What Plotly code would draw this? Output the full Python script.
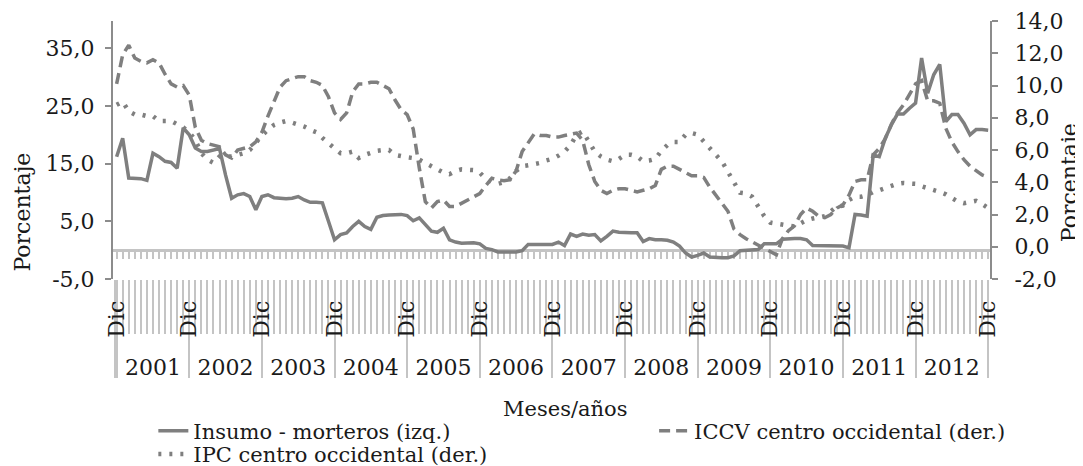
import plotly.graph_objects as go

# ---------------- data (monthly, Dic 2000 ... Dic 2012) ----------------
month_names = ["Ene", "Feb", "Mar", "Abr", "May", "Jun",
               "Jul", "Ago", "Sep", "Oct", "Nov", "Dic"]
years = [2001, 2002, 2003, 2004, 2005, 2006, 2007, 2008, 2009, 2010, 2011, 2012]

insumo_morteros = [
    16.2, 19.4, 12.5, 12.5, 12.4, 12.1, 16.8, 16.2, 15.4, 15.2, 14.2, 21.2,
    20.0, 17.7, 17.1, 17.1, 17.4, 17.6, 13.0, 9.0, 9.6, 9.8, 9.3, 7.0,
    9.3, 9.6, 9.1, 9.0, 8.9, 9.0, 9.3, 8.7, 8.3, 8.3, 8.2, 5.0,
    1.8, 2.7, 3.0, 4.1, 5.0, 4.1, 3.6, 5.7, 6.0, 6.1, 6.1, 6.2,
    6.0, 5.1, 5.6, 4.4, 3.3, 3.1, 3.8, 1.8, 1.4, 1.2, 1.2, 1.3,
    1.1, 0.3, 0.1, -0.3, -0.3, -0.3, -0.3, -0.1, 1.0, 1.0, 1.0, 1.0,
    1.0, 1.4, 0.8, 2.8, 2.4, 2.8, 2.6, 2.7, 1.6, 2.4, 3.3, 3.1,
    3.0, 3.0, 3.0, 1.5, 2.0, 1.8, 1.8, 1.7, 1.4, 0.7, -0.5, -1.2,
    -0.9, -0.5, -1.2, -1.3, -1.3, -1.3, -1.0, -0.1, 0.0, 0.1, 0.1, 1.1,
    1.1, 1.1, 1.9, 2.0, 2.0, 2.0, 1.8, 0.8, 0.8, 0.8, 0.8, 0.8,
    0.7, 0.4, 6.2, 6.1, 5.9, 16.5, 16.2, 19.4, 21.7, 23.6, 23.6, 24.6,
    25.5, 33.3, 27.2, 30.4, 32.2, 22.3, 23.5, 23.5, 22.0, 20.0, 20.9, 20.9,
    20.8,
]

iccv_centro_occidental = [
    10.1, 11.9, 12.5, 11.7, 11.5, 11.4, 11.6, 11.4, 10.7, 10.1, 9.9, 10.0,
    9.4, 7.4, 6.6, 6.4, 6.3, 6.2, 5.7, 5.5, 6.0, 6.1, 6.2, 6.5,
    7.1, 8.1, 9.0, 9.9, 10.3, 10.45, 10.55, 10.55, 10.3, 10.2, 10.0, 9.3,
    8.3, 7.9, 8.3, 9.6, 10.1, 10.1, 10.2, 10.2, 10.0, 9.8, 9.1, 8.5,
    8.2, 7.3, 4.9, 2.8, 2.4, 2.8, 2.9, 2.5, 2.5, 2.7, 2.9, 3.1,
    3.3, 3.8, 4.25, 4.15, 4.1, 4.15, 4.7, 5.9, 6.5, 7.0, 6.9, 6.9,
    6.8, 6.8, 6.9, 7.0, 7.05, 6.6, 5.1, 4.05, 3.5, 3.3, 3.5, 3.6,
    3.6, 3.5, 3.4, 3.5, 3.6, 3.8, 4.8, 5.0, 5.0, 4.8, 4.6, 4.4,
    4.4, 4.3, 3.7, 3.2, 2.7, 2.2, 1.1, 0.75, 0.5, 0.3, 0.1, -0.1,
    -0.35, -0.5, 0.5, 1.0, 1.3, 2.0, 2.4, 2.2, 1.9, 1.8, 2.0, 2.4,
    2.6, 3.2, 4.05, 4.15, 4.15, 5.7, 6.1, 6.7, 7.6, 8.3, 8.8, 9.4,
    10.1, 10.3, 9.05, 9.05, 8.9, 7.35, 6.5, 5.9, 5.4, 5.0, 4.7, 4.45,
    4.3,
]

ipc_centro_occidental = [
    8.8, 9.0, 8.4, 8.2, 8.2, 8.1, 8.1, 7.8, 7.8, 7.8, 7.6, 7.4,
    7.1, 6.6, 5.8, 5.4, 5.2, 5.6, 5.6, 5.6, 5.7, 5.8, 6.0, 6.5,
    6.9, 7.25, 7.55, 7.7, 7.8, 7.7, 7.6, 7.45, 7.25, 7.1, 6.75, 6.4,
    6.1, 5.8, 5.8, 5.9, 5.5, 5.7, 5.85, 5.95, 6.0, 6.0, 5.7, 5.6,
    5.55, 5.5, 5.4, 5.2, 5.0, 4.8, 4.6, 4.5, 4.7, 4.8, 4.8, 4.75,
    4.6, 4.2, 4.0, 3.9, 4.0, 4.25, 4.7, 5.0, 5.05, 5.1, 5.2, 5.35,
    5.45, 5.65, 5.9, 6.3, 6.95, 7.15, 6.5, 5.9, 5.6, 5.4, 5.3, 5.45,
    5.7, 5.7, 5.6, 5.3, 5.35, 5.45, 5.95, 6.3, 6.5, 6.5, 6.95, 7.05,
    6.95, 6.5, 6.1, 5.7, 5.3, 4.65, 3.95, 3.35, 3.3, 3.1, 2.5, 1.9,
    1.5, 1.45, 1.4, 1.3, 1.25, 1.45, 1.65, 1.75, 1.8, 1.9, 2.2, 2.5,
    2.55, 2.9, 3.1, 3.1, 3.2, 3.4, 3.5, 3.65, 3.8, 3.9, 3.95, 3.95,
    3.9, 3.75, 3.65, 3.5, 3.4, 3.25, 3.05, 2.8, 2.7, 2.75, 2.85, 2.65,
    2.4,
]

left_ticks = [-5, 5, 15, 25, 35]
right_ticks = [-2, 0, 2, 4, 6, 8, 10, 12, 14]

# categories: Dic 2000 followed by every month of 2001..2012
categories = ["Dic 2000"] + [f"{m} {y}" for y in years for m in month_names]
idx = list(range(len(categories)))
dic_idx = [i for i, c in enumerate(categories) if c.startswith("Dic")]
year_mid = [(a + b) / 2 for a, b in zip(dic_idx[:-1], dic_idx[1:])]
year_text = [str(y) for y in years]


def fmt(v):
    return f"{v:.1f}".replace(".", ",")


# ---------------- styling ----------------
FONT = "DejaVu Serif"
FS = 22
LFS = 21
TXT = "#1a1a1a"
LINE = "#7f7f7f"
AX = "#8c8c8c"
LIGHT = "#c4c4c4"

x_range = [-0.6, 144.3]
yl_range = [-5, 39.73]
yr_range = [-2, 14]

fig = go.Figure()
fig.add_trace(go.Scatter(x=idx, y=insumo_morteros, mode="lines",
                         name="Insumo - morteros (izq.)",
                         line=dict(color=LINE, width=3.5), legend="legend"))
fig.add_trace(go.Scatter(x=idx, y=iccv_centro_occidental, mode="lines",
                         name="ICCV centro occidental (der.)", yaxis="y2",
                         line=dict(color=LINE, width=3.5, dash="11px,6px"),
                         legend="legend2"))
fig.add_trace(go.Scatter(x=idx, y=ipc_centro_occidental, mode="lines",
                         name="IPC centro occidental (der.)", yaxis="y2",
                         line=dict(color=LINE, width=4.5, dash="3px,8px"),
                         legend="legend3"))
# empty helper traces so the decorative category axes get drawn
for ax in ["x2", "x3", "x4", "x5"]:
    fig.add_trace(go.Scatter(x=[None], y=[None], xaxis=ax, yaxis="y",
                             mode="lines", showlegend=False,
                             hoverinfo="skip"))

zero_pos = (0 - yl_range[0]) / (yl_range[1] - yl_range[0])

legend_style = dict(orientation="v", xanchor="left", yanchor="top",
                    bgcolor="rgba(0,0,0,0)", tracegroupgap=0, itemwidth=30,
                    font=dict(family=FONT, size=LFS, color=TXT))

# the page adds an 8px body margin, so the figure is 8px smaller
fig.update_layout(
    width=1075, height=458,
    margin=dict(l=105, r=93, t=13, b=187, autoexpand=False),
    paper_bgcolor="white", plot_bgcolor="white",
    font=dict(family=FONT, size=FS, color=TXT),
    showlegend=True,
    # main monthly tick marks in the label band
    xaxis=dict(range=x_range, tickmode="array", tickvals=idx,
               showticklabels=False, ticks="outside", ticklen=54,
               tickwidth=2, tickcolor=LIGHT, showline=False,
               showgrid=False, zeroline=False),
    # year separators
    xaxis2=dict(range=x_range, overlaying="x", anchor="y", side="bottom",
                tickmode="array", tickvals=[x_range[0] + 0.25] + dic_idx,
                showticklabels=False, ticks="outside", ticklen=98,
                tickwidth=2, tickcolor=LIGHT, showline=False,
                showgrid=False, zeroline=False),
    # "Dic" labels
    xaxis3=dict(range=x_range, overlaying="x", anchor="y", side="bottom",
                tickmode="array", tickvals=dic_idx,
                ticktext=["Dic"] * len(dic_idx), tickangle=-90,
                ticks="outside", ticklen=12, tickcolor="rgba(0,0,0,0)",
                tickfont=dict(family=FONT, size=FS, color=TXT),
                showline=False, showgrid=False, zeroline=False),
    # year labels
    xaxis4=dict(range=x_range, overlaying="x", anchor="y", side="bottom",
                tickmode="array", tickvals=year_mid, ticktext=year_text,
                ticks="outside", ticklen=69, tickcolor="rgba(0,0,0,0)",
                tickfont=dict(family=FONT, size=FS, color=TXT),
                showline=False, showgrid=False, zeroline=False),
    # horizontal category axis line at 0 with monthly ticks
    xaxis5=dict(range=x_range, overlaying="x", anchor="free",
                position=zero_pos, side="bottom",
                tickmode="array", tickvals=idx, showticklabels=False,
                ticks="outside", ticklen=7, tickwidth=2, tickcolor=LIGHT,
                showline=True, linecolor=LIGHT, linewidth=2.5,
                showgrid=False, zeroline=False, layer="below traces"),
    yaxis=dict(range=yl_range, tickmode="array",
               tickvals=left_ticks, ticktext=[fmt(v) for v in left_ticks],
               ticks="outside", ticklen=6, tickwidth=1.5, tickcolor=AX,
               ticklabelstandoff=6,
               showline=True, linecolor=AX, linewidth=2,
               showgrid=False, zeroline=False,
               tickfont=dict(family=FONT, size=FS, color=TXT)),
    yaxis2=dict(range=yr_range, overlaying="y", side="right", anchor="x",
                tickmode="array", tickvals=right_ticks,
                ticktext=[fmt(v) for v in right_ticks],
                ticks="outside", ticklen=6, tickwidth=1.5, tickcolor=AX,
                ticklabelstandoff=12,
                showline=True, linecolor=AX, linewidth=2,
                showgrid=False, zeroline=False,
                tickfont=dict(family=FONT, size=FS, color=TXT)),
    legend=dict(x=0.046, y=-0.51, **legend_style),
    legend2=dict(x=0.617, y=-0.51, **legend_style),
    legend3=dict(x=0.046, y=-0.6, **legend_style),
    annotations=[
        dict(text="Meses/años", xref="paper", yref="paper",
             x=0.515, y=-0.505, xanchor="center", yanchor="middle",
             showarrow=False, font=dict(family=FONT, size=LFS, color=TXT)),
        dict(text="Porcentaje", xref="paper", yref="paper",
             x=-0.103, y=0.26, xanchor="center", yanchor="middle",
             textangle=-90, showarrow=False,
             font=dict(family=FONT, size=FS, color=TXT)),
        dict(text="Porcentaje", xref="paper", yref="paper",
             x=1.09, y=0.375, xanchor="center", yanchor="middle",
             textangle=-90, showarrow=False,
             font=dict(family=FONT, size=FS, color=TXT)),
    ],
)

fig.write_html("out.html")
